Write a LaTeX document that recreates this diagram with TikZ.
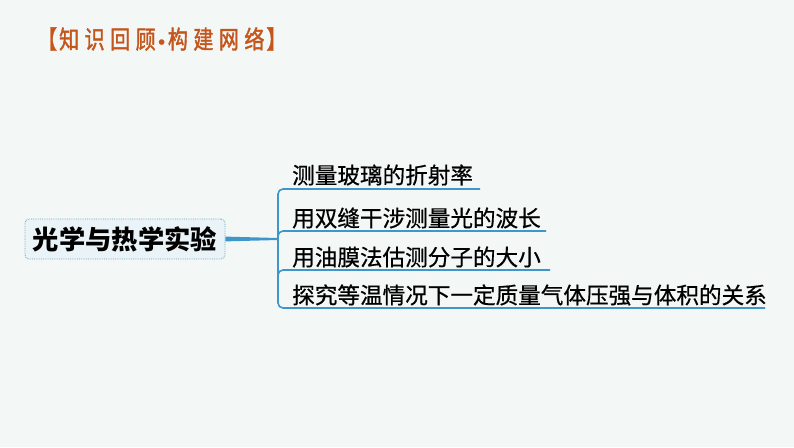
\documentclass[tikz,border=0pt]{standalone}
\usepackage{fontspec}
\setmainfont{Noto Sans CJK SC}
\newfontfamily\titlefont[FakeStretch=0.8,FakeBold=1.5]{Noto Sans CJK SC}
\newfontfamily\itemfont[FakeBold=0.6]{Noto Sans CJK SC}
\newfontfamily\dotfont{DejaVu Sans}
\definecolor{bgc}{HTML}{F3F7F5}
\definecolor{titleorange}{HTML}{C4561C}
\definecolor{branchblue}{HTML}{3F97C9}
\definecolor{boxborder}{HTML}{6FA9BE}
\definecolor{boxfill}{HTML}{EAF3F7}
\newcommand{\tk}{\kern5.5pt}
\tikzset{
  itemtext/.style={anchor=west, inner sep=0pt, font=\itemfont\fontsize{22.6}{25}\selectfont, text=black},
  rootbox/.style={draw=boxborder, densely dotted, line width=0.8pt, fill=boxfill, rounded corners=4pt,
    minimum width=200pt, minimum height=40pt, inner sep=0pt, font=\bfseries\fontsize{26.3}{29}\selectfont},
  branch/.style={draw=branchblue, line width=1.6pt, rounded corners=5pt},
}
\begin{document}
\begin{tikzpicture}[x=1pt,y=-1pt]
\fill[bgc] (0,0) rectangle (794,447);
\useasboundingbox (0,0) rectangle (794,447);
\node[anchor=west, inner sep=0pt, text=titleorange, font=\titlefont\fontsize{25}{28}\selectfont] (title) at (37,39) {【\kern2pt 知\tk 识\tk 回\tk 顾\kern1pt{\dotfont\bfseries\fontsize{16}{16}\selectfont •}\kern1pt 构\tk 建\tk 网\tk 络\kern2pt 】};
\node[rootbox] (root) at (125,239) {光学与热学实验};
\coordinate (hub) at (278,239);
\coordinate (e1) at (480,189);
\coordinate (e2) at (546,231);
\coordinate (e3) at (550,270);
\coordinate (e4) at (765,308);
\fill[branchblue] ([yshift=2.4pt]root.east) -- ([yshift=1pt]hub) -- ([yshift=-1pt]hub) -- ([yshift=-2.4pt]root.east) -- cycle;
\draw[branch] (e1) -- (e1 -| hub) -- (e4 -| hub) -- (e4);
\draw[branch] ([yshift=-12pt]e2 -| hub) |- (e2);
\draw[branch] ([yshift=-12pt]e3 -| hub) |- (e3);
\node[itemtext] (b1) at (292,175) {测量玻璃的折射率};
\node[itemtext] (b2) at (292,218) {用双缝干涉测量光的波长};
\node[itemtext] (b3) at (292,257) {用油膜法估测分子的大小};
\node[itemtext] (b4) at (292,295) {探究等温情况下一定质量气体压强与体积的关系};
\end{tikzpicture}
\end{document}
